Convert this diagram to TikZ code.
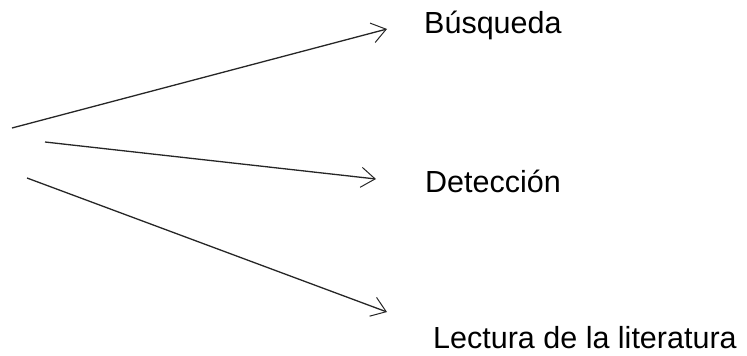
\documentclass[tikz,border=0pt]{standalone}
\usepackage{fontspec}
\setmainfont{Liberation Sans}
\usetikzlibrary{arrows.meta}
\begin{document}
\begin{tikzpicture}[x=1pt,y=-1pt,
  conn/.style={draw=black!85, line width=1.3pt, -{Straight Barb[length=14pt,width=20pt,line width=1pt]}},
  lbl/.style={anchor=base west, inner sep=0pt, font=\fontsize{30.5}{36}\selectfont}]
\useasboundingbox (0,0) rectangle (747,356);
\coordinate (s1) at (12,128);
\coordinate (t1) at (387,29);
\coordinate (s2) at (45,142);
\coordinate (t2) at (376,179);
\coordinate (s3) at (27,178);
\coordinate (t3) at (387,312);
\node[lbl] (busq) at (424,34) {Búsqueda};
\node[lbl] (det) at (425,192) {Detección};
\node[lbl] (lect) at (433,348) {Lectura de la literatura};
\draw[conn] (s1) -- (t1);
\draw[conn] (s2) -- (t2);
\draw[conn] (s3) -- (t3);
\end{tikzpicture}
\end{document}
